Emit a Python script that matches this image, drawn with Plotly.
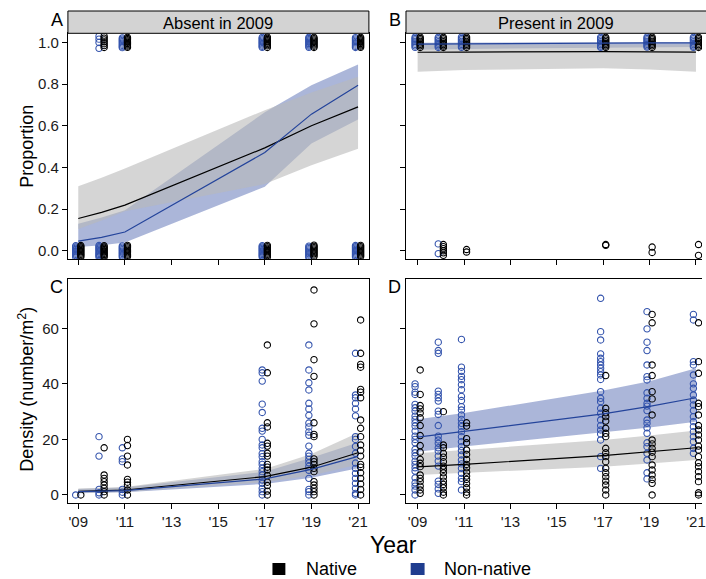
import plotly.graph_objects as go

# ---------------- data ----------------
years = [2009, 2010, 2011, 2017, 2019, 2021]
tick_years = [2009, 2011, 2013, 2015, 2017, 2019, 2021]
tick_text = ["'09", "'11", "'13", "'15", "'17", "'19", "'21"]
prop_ticks = [0, 0.2, 0.4, 0.6, 0.8, 1.0]
dens_ticks = [0, 20, 40, 60]
strip_labels = ["Absent in 2009", "Present in 2009"]
panel_letters = ["A", "B", "C", "D"]
legend_labels = ["Native", "Non-native"]

# Panel A: proportion, absent in 2009 (fitted values and 95% bands)
A_nat_fit = [0.155, 0.184, 0.219, 0.494, 0.600, 0.691]
A_nat_lo = [0.105, 0.145, 0.190, 0.320, 0.410, 0.490]
A_nat_hi = [0.310, 0.350, 0.395, 0.675, 0.760, 0.835]
A_non_fit = [0.046, 0.064, 0.090, 0.472, 0.656, 0.795]
A_non_lo = [0.018, 0.027, 0.040, 0.307, 0.515, 0.630]
A_non_hi = [0.130, 0.160, 0.195, 0.665, 0.795, 0.894]

# Panel B: proportion, present in 2009
B_nat_fit = [0.953, 0.954, 0.954, 0.956, 0.955, 0.954]
B_nat_lo = [0.859, 0.864, 0.868, 0.876, 0.870, 0.859]
B_nat_hi = [0.990, 0.990, 0.990, 0.991, 0.991, 0.990]
B_non_fit = [0.992, 0.993, 0.994, 0.997, 0.998, 0.998]
B_non_lo = [0.965, 0.967, 0.969, 0.975, 0.977, 0.978]
B_non_hi = [0.999, 0.999, 0.999, 1.000, 1.000, 1.000]

# Panel C: density, absent in 2009
C_nat_fit = [1.3, 1.5, 1.8, 6.6, 10.0, 15.2]
C_nat_lo = [0.7, 0.9, 1.1, 4.6, 7.0, 11.0]
C_nat_hi = [2.3, 2.6, 2.9, 9.4, 14.8, 22.4]
C_non_fit = [1.2, 1.4, 1.6, 5.8, 9.2, 13.9]
C_non_lo = [0.6, 0.8, 1.0, 4.0, 6.2, 9.6]
C_non_hi = [2.2, 2.4, 2.7, 8.4, 13.4, 18.9]

# Panel D: density, present in 2009
D_nat_fit = [10.1, 10.5, 11.0, 14.2, 15.5, 17.0]
D_nat_lo = [7.2, 7.6, 8.0, 10.2, 11.3, 12.6]
D_nat_hi = [15.0, 15.6, 16.3, 19.8, 21.4, 23.2]
D_non_fit = [20.8, 21.8, 22.9, 29.2, 31.9, 35.0]
D_non_lo = [15.6, 16.5, 17.5, 22.6, 24.3, 26.4]
D_non_hi = [27.3, 28.4, 29.5, 37.6, 40.9, 45.6]

# Observations (proportions shown with slight vertical jitter as in the figure)
A_non_obs = {
    2009: [0.024, 0.018, 0.012, 0.006, 0.0, -0.005, -0.011, -0.017, -0.023, -0.03],
    2010: [0.025, 0.019, 0.013, 0.007, 0.001, -0.006, -0.012, -0.018, -0.024, -0.03,
           1.03, 1.016, 1.0, 0.972],
    2011: [0.023, 0.017, 0.011, 0.005, -0.001, -0.007, -0.013, -0.019, -0.025, -0.031,
           1.022, 1.016, 1.01, 1.004, 0.998, 0.992, 0.986, 0.98, 0.975],
    2017: [0.024, 0.018, 0.012, 0.006, 0.0, -0.006, -0.012, -0.018, -0.024, -0.03,
           1.024, 1.018, 1.012, 1.006, 1.0, 0.994, 0.988, 0.982, 0.977],
    2019: [0.022, 0.016, 0.01, 0.004, -0.002, -0.008, -0.014, -0.02, -0.026, -0.032,
           1.025, 1.019, 1.013, 1.007, 1.001, 0.995, 0.989, 0.983, 0.977],
    2021: [0.025, 0.019, 0.013, 0.007, 0.001, -0.005, -0.011, -0.017, -0.023, -0.029,
           1.023, 1.017, 1.011, 1.005, 0.999, 0.993, 0.987, 0.981, 0.976],
}
A_nat_obs = {
    2009: [0.025, 0.019, 0.013, 0.007, 0.001, -0.005, -0.011, -0.017, -0.023, -0.03],
    2010: [0.024, 0.018, 0.012, 0.006, 0.0, -0.006, -0.012, -0.018, -0.024, -0.03,
           1.03, 1.021, 1.012, 1.003, 0.994, 0.985, 0.976],
    2011: [0.026, 0.02, 0.014, 0.008, 0.002, -0.004, -0.01, -0.016, -0.022, -0.028,
           1.025, 1.019, 1.013, 1.007, 1.001, 0.995, 0.989, 0.983, 0.977],
    2017: [0.026, 0.02, 0.013, 0.007, 0.001, -0.005, -0.011, -0.017, -0.023, -0.03,
           1.026, 1.02, 1.014, 1.008, 1.002, 0.996, 0.99, 0.984, 0.976],
    2019: [0.027, 0.021, 0.015, 0.009, 0.003, -0.003, -0.009, -0.015, -0.021, -0.028,
           1.024, 1.018, 1.012, 1.006, 1.0, 0.994, 0.988, 0.982, 0.976],
    2021: [0.026, 0.02, 0.014, 0.008, 0.002, -0.004, -0.01, -0.016, -0.022, -0.028,
           1.025, 1.019, 1.013, 1.007, 1.001, 0.995, 0.989, 0.983, 0.977],
}
B_non_obs = {
    2009: [1.026, 1.019, 1.012, 1.005, 0.998, 0.991, 0.984, 0.977],
    2010: [1.025, 1.018, 1.011, 1.004, 0.997, 0.99, 0.983, 0.976, 0.033, -0.014],
    2011: [1.026, 1.019, 1.012, 1.005, 0.998, 0.991, 0.984, 0.977],
    2017: [1.025, 1.018, 1.011, 1.004, 0.997, 0.99, 0.983, 0.977],
    2019: [1.026, 1.019, 1.012, 1.005, 0.998, 0.991, 0.984, 0.978],
    2021: [1.025, 1.018, 1.011, 1.004, 0.997, 0.99, 0.983, 0.977],
}
B_nat_obs = {
    2009: [1.026, 1.019, 1.012, 1.005, 0.998, 0.991, 0.984, 0.976],
    2010: [1.025, 1.018, 1.011, 1.004, 0.997, 0.99, 0.983, 0.976,
           0.03, 0.02, 0.01, 0.0, -0.01, -0.022],
    2011: [1.026, 1.019, 1.012, 1.005, 0.998, 0.991, 0.984, 0.976, 0.006, -0.006],
    2017: [1.025, 1.018, 1.011, 1.004, 0.997, 0.99, 0.983, 0.976, 0.03, 0.026],
    2019: [1.026, 1.019, 1.012, 1.005, 0.998, 0.991, 0.984, 0.976, 0.018, -0.008],
    2021: [1.025, 1.018, 1.011, 1.004, 0.997, 0.99, 0.983, 0.976, 0.03, -0.022],
}
C_non_obs = {
    2009: [0],
    2010: [21, 14, 2, 0.8, 0],
    2011: [17, 13, 12, 2, 1, 0],
    2017: [45, 44, 41, 32.7, 29.7, 24, 23, 20, 18, 17, 14.9, 13.8, 12, 11, 9.6, 8.4,
           7.2, 5.4, 4.2, 2.4, 1.2, 0],
    2019: [54, 45, 40.4, 37.8, 33, 31, 28.7, 25.9, 24.5, 22.7, 21.5, 17.6, 15, 14, 12.8,
           11.6, 10.3, 8.9, 6, 2, 1.2, 0],
    2021: [51, 36, 35, 33, 31, 28.5, 21, 20, 17.5, 15, 11.5, 9.6, 7.8, 6, 4.2, 2.4, 0.6, 0],
}
C_nat_obs = {
    2009: [0],
    2010: [17, 7.2, 6, 4.8, 3.6, 2.4, 1.2, 0],
    2011: [20, 17.8, 14, 10.8, 5.6, 4.6, 3.6, 1.8, 0],
    2017: [54, 44, 26, 24.5, 18.6, 17.6, 15, 14, 11, 10, 9, 7, 4.6, 3.4, 1.4, 0],
    2019: [73.8, 61.6, 48.7, 42.7, 26, 21.8, 21, 13, 12, 11, 9.6, 8.4, 4.8, 3.6, 2.4, 1.2, 0],
    2021: [63, 51, 47, 46, 38, 37, 35, 27, 24, 21, 18, 16, 14, 11, 10, 8, 6, 4, 2, 0],
}
D_non_obs = {
    2009: [40, 39, 37, 36.2, 32.6, 31.4, 30.2, 28.4, 27.2, 26, 24.8, 23, 21.2, 20, 18.8,
           16.4, 15.2, 14, 12.2, 11, 9.8, 8.6, 6.2, 4.4, 3.2, 1.8, 0],
    2010: [55, 52, 51, 37.4, 36.2, 35, 33.8, 30.2, 29, 25, 21.2, 19.8, 18.6, 17, 15.8, 14,
           12.2, 10.4, 5, 3.8, 2.2, 0.6],
    2011: [56, 46, 44.5, 42.7, 41.5, 39.7, 37.9, 35.5, 34, 31.8, 30.6, 28.8, 27.2, 25.8,
           24.6, 22.8, 21, 19.2, 17.4, 16, 14.4, 12.6, 11.2, 9.6, 7.8, 6, 4.8, 1.8],
    2017: [70.8, 58.8, 55.8, 50.8, 49.2, 48, 46.8, 45.6, 44.4, 43.2, 41.6, 37.2, 34.8,
           33.6, 31.2, 29.4, 27, 25, 23.4, 22, 19.8, 13.8, 9.6],
    2019: [66, 59.8, 55, 52, 46.8, 42.6, 41.4, 36.8, 34.8, 33, 32, 30.4, 27, 25.8, 24.2,
           22.2, 18.8, 17.4, 15, 12.6, 8, 5.8],
    2021: [65, 63, 48, 46.8, 43.2, 40, 38.4, 36, 34.2, 32.4, 30.4, 28.2, 26.4, 24.6, 22.8,
           21, 19.2, 16.8, 15],
}
D_nat_obs = {
    2009: [45, 36.2, 32.2, 31, 29.5, 27.8, 25, 21.4, 17.8, 15.4, 12.8, 11.4, 10.2, 7.2, 6,
           4.8, 3.2, 1.8, 0.6],
    2010: [30, 18, 17, 15, 13.6, 12, 10.4, 9.2, 8, 6.5, 5, 3.8, 2.6, 1, 0],
    2011: [26, 24.8, 20.3, 18.8, 16.2, 14.6, 12.8, 11, 9.8, 8.2, 6.8, 5.6, 4.1, 2.6, 1, 0],
    2017: [43, 31.2, 29.6, 28.2, 26.6, 24, 22.2, 21, 16.8, 15.2, 13.8, 12, 9.6, 8, 6.6, 5,
           3.6, 1.8, 0],
    2019: [65, 62, 46.8, 43, 37.2, 34.6, 28.8, 19.8, 18.4, 16.8, 15.4, 13.8, 10.8, 9, 7.2,
           5.6, 4.2, 0],
    2021: [62, 48, 43.8, 33, 31.8, 28.8, 25, 23.4, 21.6, 19.8, 17.6, 16.2, 13.8, 11.6, 10.2,
           8.4, 6.6, 4.8, 0.8, 0],
}

# ---------------- styling ----------------
W, H = 706, 579
FONT = "Arial, Liberation Sans, sans-serif"
NAT = "#000000"
NON_PT = "#3454ad"
NON_LN = "#24449b"
NON_LEG = "#1f3d8f"
NON_BAND = "rgba(44,72,160,0.40)"
NAT_BAND = "rgba(185,185,185,0.60)"
DODGE = 0.11


def px_x(x):
    return x / W


def px_y(y):
    return 1 - y / H


dom_x = {1: [px_x(68.3), px_x(371)], 2: [px_x(408.3), 1.0],
         3: [px_x(68.3), px_x(371)], 4: [px_x(408.3), 1.0]}
dom_y = {1: [px_y(259.3), px_y(33.3)], 2: [px_y(259.3), px_y(33.3)],
         3: [px_y(503.3), px_y(278.7)], 4: [px_y(503.3), px_y(278.7)]}
x_range = {1: [2008.556, 2021.465], 2: [2008.498, 2021.26],
           3: [2008.556, 2021.465], 4: [2008.498, 2021.26]}
y_range = {1: [-0.041, 1.044], 2: [-0.041, 1.044], 3: [-2.99, 77.86], 4: [-2.99, 77.86]}

fig = go.Figure()


def ax(i):
    return ("x" if i == 1 else f"x{i}"), ("y" if i == 1 else f"y{i}")


def band(i, lo, hi, color):
    xa, ya = ax(i)
    fig.add_trace(go.Scatter(x=years, y=lo, mode="lines", line=dict(width=0),
                             hoverinfo="skip", showlegend=False, xaxis=xa, yaxis=ya))
    fig.add_trace(go.Scatter(x=years, y=hi, mode="lines", line=dict(width=0),
                             fill="tonexty", fillcolor=color, hoverinfo="skip",
                             showlegend=False, xaxis=xa, yaxis=ya))


def points(i, obs, color, shift):
    xa, ya = ax(i)
    xs, ys = [], []
    for yr, vals in obs.items():
        for v in vals:
            xs.append(yr + shift)
            ys.append(v)
    fig.add_trace(go.Scatter(x=xs, y=ys, mode="markers",
                             marker=dict(symbol="circle-open", size=6.3, color=color,
                                         line=dict(width=1.1, color=color)),
                             showlegend=False, xaxis=xa, yaxis=ya))


def line(i, fit, color):
    xa, ya = ax(i)
    fig.add_trace(go.Scatter(x=years, y=fit, mode="lines", line=dict(color=color, width=1.2),
                             showlegend=False, xaxis=xa, yaxis=ya))


panels = [
    (1, A_non_lo, A_non_hi, A_nat_lo, A_nat_hi, A_non_obs, A_nat_obs, A_non_fit, A_nat_fit),
    (2, B_non_lo, B_non_hi, B_nat_lo, B_nat_hi, B_non_obs, B_nat_obs, B_non_fit, B_nat_fit),
    (3, C_non_lo, C_non_hi, C_nat_lo, C_nat_hi, C_non_obs, C_nat_obs, C_non_fit, C_nat_fit),
    (4, D_non_lo, D_non_hi, D_nat_lo, D_nat_hi, D_non_obs, D_nat_obs, D_non_fit, D_nat_fit),
]
for (i, nlo, nhi, tlo, thi, nobs, tobs, nfit, tfit) in panels:
    band(i, nlo, nhi, NON_BAND)
    band(i, tlo, thi, NAT_BAND)
    points(i, nobs, NON_PT, -DODGE)
    points(i, tobs, NAT, DODGE)
    line(i, tfit, NAT)
    line(i, nfit, NON_LN)

tickfont = dict(family=FONT, size=15, color="#1a1a1a")
layout = {}
for i in range(1, 5):
    xk = "xaxis" if i == 1 else f"xaxis{i}"
    yk = "yaxis" if i == 1 else f"yaxis{i}"
    layout[xk] = dict(domain=dom_x[i], range=x_range[i], anchor=ax(i)[1],
                      tickvals=tick_years, ticktext=tick_text, showticklabels=(i >= 3),
                      ticklabeloverflow="allow",
                      ticks="outside", ticklen=5, tickwidth=1, tickcolor="black",
                      showline=True, linecolor="black", linewidth=1, mirror=True,
                      showgrid=False, zeroline=False, tickfont=tickfont)
    left = i in (1, 3)
    layout[yk] = dict(domain=dom_y[i], range=y_range[i], anchor=ax(i)[0],
                      tickvals=prop_ticks if i <= 2 else dens_ticks,
                      tickformat=".1f" if i <= 2 else "d",
                      showticklabels=left, ticks="outside", ticklen=5, tickwidth=1,
                      tickcolor="black", showline=True, linecolor="black", linewidth=1,
                      mirror=left, showgrid=False, zeroline=False, tickfont=tickfont)

shapes = []
annotations = []
# strips
for k, (x0, x1) in enumerate([(dom_x[1][0], dom_x[1][1]), (dom_x[2][0], 1.01)]):
    shapes.append(dict(type="rect", xref="paper", yref="paper", x0=x0, x1=x1,
                       y0=px_y(33.3), y1=px_y(11), fillcolor="#d3d3d3",
                       line=dict(color="black", width=1), layer="above"))
    cx = (dom_x[1][0] + dom_x[1][1]) / 2 if k == 0 else (dom_x[2][0] + px_x(710)) / 2
    annotations.append(dict(text=strip_labels[k], xref="paper", yref="paper", x=cx,
                            y=px_y(22.5), showarrow=False, xanchor="center",
                            yanchor="middle", font=dict(family=FONT, size=16.5, color="black")))
# panel letters
for letter, (lx, ly) in zip(panel_letters, [(57, 20), (397, 20), (57, 287), (397, 287)]):
    annotations.append(dict(text=letter, xref="paper", yref="paper", x=px_x(lx), y=px_y(ly),
                            showarrow=False, xanchor="center", yanchor="middle",
                            font=dict(family=FONT, size=18, color="black")))
# axis titles
annotations.append(dict(text="Proportion", xref="paper", yref="paper", x=px_x(27),
                        y=px_y(146), textangle=-90, showarrow=False, xanchor="center",
                        yanchor="middle", font=dict(family=FONT, size=18, color="black")))
annotations.append(dict(text="Density (number/m<sup>2</sup>)", xref="paper", yref="paper",
                        x=px_x(26), y=px_y(389), textangle=-90, showarrow=False,
                        xanchor="center", yanchor="middle",
                        font=dict(family=FONT, size=18, color="black")))
annotations.append(dict(text="Year", xref="paper", yref="paper", x=px_x(396), y=px_y(545),
                        showarrow=False, xanchor="center", yanchor="middle",
                        font=dict(family=FONT, size=23, color="black")))
# legend
for (sx0, sx1, col), lab, tx in zip([(274, 287, NAT), (413, 427, NON_LEG)], legend_labels,
                                    [306, 445]):
    shapes.append(dict(type="rect", xref="paper", yref="paper", x0=px_x(sx0), x1=px_x(sx1),
                       y0=px_y(575), y1=px_y(563), fillcolor=col, line=dict(width=0)))
    annotations.append(dict(text=lab, xref="paper", yref="paper", x=px_x(tx), y=px_y(569),
                            showarrow=False, xanchor="left", yanchor="middle",
                            font=dict(family=FONT, size=18, color="black")))

fig.update_layout(width=W, height=H, margin=dict(l=0, r=0, t=0, b=0),
                  paper_bgcolor="white", plot_bgcolor="white", showlegend=False,
                  shapes=shapes, annotations=annotations, **layout)

fig.write_html("out.html")
